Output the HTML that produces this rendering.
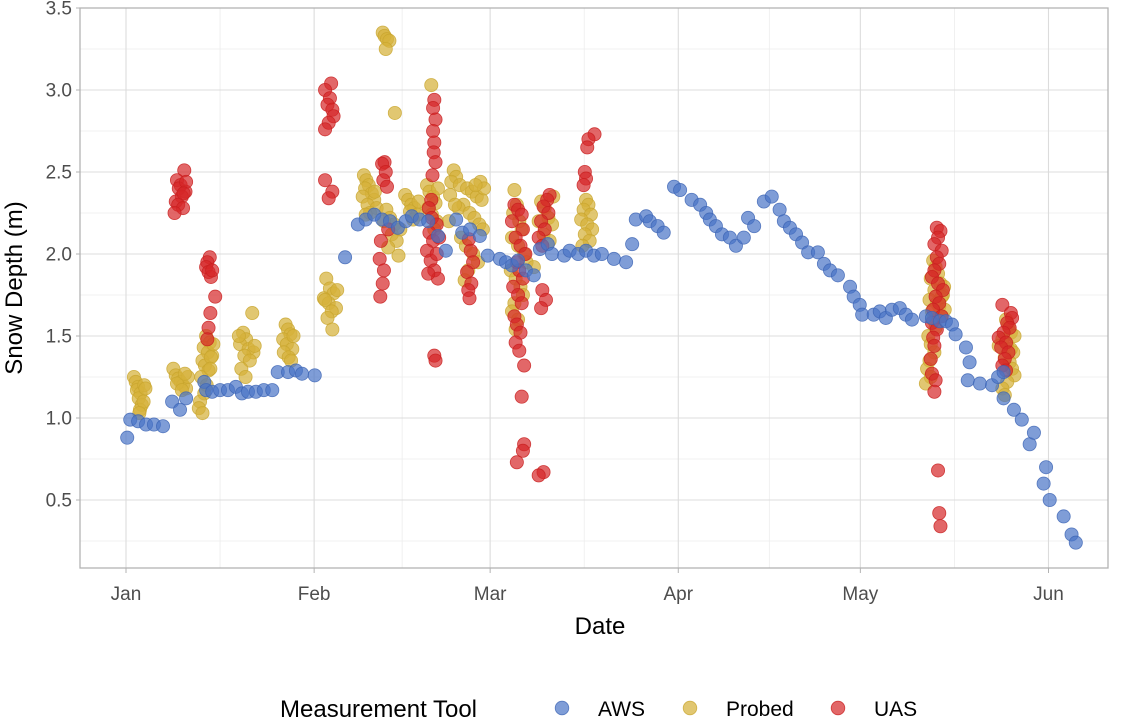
<!DOCTYPE html>
<html><head><meta charset="utf-8"><style>
body{margin:0;background:#fff;}
svg{display:block;font-family:"Liberation Sans",sans-serif;}
</style></head><body>
<svg id="chart" width="1123" height="719" viewBox="0 0 1123 719" xmlns="http://www.w3.org/2000/svg"></svg>
<script>
const monthLabels=["Jan","Feb","Mar","Apr","May","Jun"];
const monthDays=[0,31,60,91,121,152];
const yTicks=[0.5,1.0,1.5,2.0,2.5,3.0,3.5];
const yTickLabels=["0.5","1.0","1.5","2.0","2.5","3.0","3.5"];
const seriesNames=["AWS","Probed","UAS"];

const awsDays=[0.2,0.7,2.0,3.3,4.6,6.1,7.6,8.9,9.9,12.9,13.2,14.2,15.5,16.8,18.1,19.1,20.1,21.4,22.7,24.1,25.0,26.7,28.0,29.0,31.1,36.1,38.2,39.5,40.9,42.2,43.5,44.8,46.1,47.1,48.4,49.8,51.4,52.7,54.4,55.4,56.7,58.3,59.6,61.6,62.6,63.6,64.6,65.9,67.2,68.2,69.5,70.2,72.2,73.1,74.5,75.8,77.1,78.4,80.4,82.4,83.4,84.0,85.7,86.3,87.6,88.6,90.3,91.3,93.2,94.6,95.6,96.2,97.2,98.2,99.5,100.5,101.8,102.5,103.5,105.1,106.4,107.7,108.4,109.4,110.4,111.4,112.4,114.0,115.0,116.0,117.3,119.3,119.9,120.9,121.3,123.2,124.2,125.2,126.2,127.5,128.5,129.5,131.8,132.8,134.1,135.1,136.1,136.7,138.4,139.0,138.7,140.7,142.7,143.7,144.6,144.6,146.3,147.6,148.9,149.6,151.2,151.6,152.2,154.5,155.8,156.5];
const awsVals=[0.88,0.99,0.98,0.96,0.96,0.95,1.10,1.05,1.12,1.22,1.17,1.16,1.17,1.17,1.19,1.15,1.16,1.16,1.17,1.17,1.28,1.28,1.29,1.27,1.26,1.98,2.18,2.21,2.24,2.21,2.20,2.16,2.20,2.23,2.21,2.20,2.11,2.02,2.21,2.13,2.15,2.11,1.99,1.97,1.95,1.93,1.96,1.90,1.87,2.03,2.06,2.00,1.99,2.02,2.00,2.02,1.99,2.00,1.97,1.95,2.06,2.21,2.23,2.20,2.17,2.13,2.41,2.39,2.33,2.30,2.25,2.21,2.17,2.12,2.10,2.05,2.10,2.22,2.17,2.32,2.35,2.27,2.20,2.16,2.12,2.07,2.01,2.01,1.94,1.90,1.87,1.80,1.74,1.69,1.63,1.63,1.65,1.61,1.66,1.67,1.63,1.60,1.62,1.61,1.59,1.59,1.57,1.51,1.43,1.34,1.23,1.21,1.20,1.25,1.28,1.12,1.05,0.99,0.84,0.91,0.60,0.70,0.50,0.40,0.29,0.24];

const probedDays=[1.3,1.6,2.0,1.8,2.4,2.1,2.6,2.3,3.0,3.2,2.9,2.2,
7.8,8.2,8.6,9.0,9.4,9.9,10.2,8.4,9.2,9.7,
13.2,13.8,12.8,13.5,14.2,12.6,13.0,13.6,12.4,13.3,12.9,12.2,12.0,12.6,14.4,14.0,13.9,
20.8,19.3,19.8,18.8,20.2,21.0,19.5,20.4,19.0,19.7,21.2,18.6,
26.3,26.7,27.1,25.9,26.5,27.4,26.0,26.8,27.2,27.6,
33.0,33.6,34.2,32.6,33.4,34.6,33.9,33.2,34.0,34.8,32.8,
39.2,39.6,40.0,39.4,40.5,39.0,40.9,39.8,41.3,40.2,39.5,41.0,
42.3,42.6,43.0,43.4,42.8,44.3,
42.9,43.5,44.2,43.8,44.6,43.2,44.9,45.2,42.5,
46.0,46.5,47.0,47.5,46.8,48.0,47.3,48.2,
50.3,49.6,50.0,50.6,51.0,49.8,50.4,51.4,51.2,50.8,
54.0,54.4,53.6,55.0,56.2,57.0,57.8,58.6,55.6,54.8,56.6,57.4,58.2,58.8,55.2,56.0,57.2,58.0,56.4,55.8,58.4,59.0,53.4,57.6,54.2,53.2,
64.0,64.4,63.8,64.8,65.2,63.6,64.6,65.6,66.0,63.4,64.2,65.0,65.4,64.0,63.6,64.6,64.2,68.4,69.0,69.6,70.2,68.8,69.8,67.2,70.4,68.0,
75.8,76.2,75.4,76.6,75.0,76.0,76.8,75.6,76.4,75.2,
133.0,133.4,133.8,132.6,134.2,133.2,134.6,132.4,133.6,134.0,132.8,134.4,133.0,133.4,132.2,132.6,133.2,132.4,132.0,132.6,131.8,134.8,134.4,134.9,
145.0,145.4,145.8,144.4,145.2,145.8,146.2,144.8,145.6,146.0,146.4,145.2,144.4,144.8,146.4,143.8];
const probedVals=[1.25,1.22,1.19,1.17,1.15,1.12,1.08,1.05,1.20,1.18,1.10,1.03,
1.30,1.26,1.24,1.22,1.20,1.18,1.25,1.21,1.17,1.27,
1.50,1.46,1.43,1.40,1.38,1.35,1.32,1.29,1.25,1.20,1.15,1.10,1.06,1.03,1.45,1.37,1.30,
1.64,1.52,1.48,1.45,1.42,1.40,1.38,1.35,1.30,1.25,1.44,1.50,
1.57,1.54,1.51,1.48,1.45,1.42,1.40,1.37,1.35,1.50,
1.85,1.79,1.76,1.73,1.70,1.67,1.65,1.61,1.54,1.78,1.72,
2.48,2.45,2.42,2.40,2.37,2.35,2.33,2.30,2.28,2.25,2.24,2.38,
3.35,3.33,3.31,3.30,3.25,2.86,
2.27,2.22,2.18,2.12,2.08,2.04,1.99,2.15,2.20,
2.36,2.33,2.30,2.28,2.26,2.24,2.21,2.32,
3.03,2.42,2.38,2.35,2.31,2.28,2.24,2.40,2.20,2.15,
2.51,2.47,2.44,2.42,2.40,2.38,2.35,2.33,2.30,2.28,2.25,2.22,2.18,2.15,2.10,2.05,2.00,1.95,1.90,1.84,2.44,2.40,2.36,2.42,2.30,2.20,
2.39,2.30,2.25,2.20,2.15,2.10,2.05,2.00,1.95,1.90,1.85,1.80,1.75,1.70,1.65,1.60,1.54,2.32,2.28,2.22,2.18,2.12,2.08,1.92,2.35,2.20,
2.33,2.30,2.27,2.24,2.21,2.18,2.15,2.12,2.08,2.05,
1.96,1.92,1.88,1.85,1.82,1.78,1.75,1.72,1.70,1.68,1.65,1.62,1.60,1.55,1.50,1.45,1.40,1.35,1.30,1.25,1.21,1.80,1.74,1.66,
1.60,1.56,1.52,1.48,1.45,1.42,1.40,1.37,1.34,1.30,1.26,1.22,1.18,1.14,1.50,1.44];

const uasDays=[9.6,8.4,9.0,8.7,9.8,9.2,8.2,8.6,9.4,8.0,9.9,9.5,
13.8,13.4,13.2,13.6,14.0,14.7,13.9,13.6,14.2,13.4,
33.8,32.8,33.6,33.2,34.0,34.2,33.4,32.8,32.8,34.0,33.4,
42.6,42.2,42.8,42.4,43.0,43.2,42.0,41.8,42.5,42.3,41.9,
50.8,50.6,51.0,50.6,50.8,50.7,51.0,50.5,50.3,49.9,50.4,51.2,50.0,50.6,49.6,50.2,50.8,51.4,49.8,50.8,51.0,51.6,51.2,
56.5,56.8,57.2,56.2,56.9,56.4,56.6,
64.0,64.6,65.2,63.6,65.4,64.2,65.0,65.8,64.4,64.8,65.4,63.8,64.6,65.2,64.0,64.4,65.0,64.2,64.8,65.6,65.2,65.6,65.4,64.4,
69.8,69.4,68.8,69.6,68.4,69.0,68.0,68.6,68.6,69.2,68.4,68.8,68.0,
77.2,76.2,76.0,75.6,75.8,75.4,
133.6,134.2,133.8,133.2,134.4,133.6,134.0,133.2,132.8,133.8,134.6,133.4,134.0,133.0,134.4,132.8,133.6,133.0,133.2,132.6,132.8,133.4,133.2,133.8,134.0,134.2,
144.4,145.8,146.0,145.2,145.6,144.6,143.8,145.0,144.2,145.4,144.8,144.4,145.0];
const uasVals=[2.51,2.45,2.42,2.40,2.38,2.35,2.32,2.30,2.28,2.25,2.44,2.37,
1.98,1.95,1.92,1.89,1.86,1.74,1.64,1.55,1.90,1.48,
3.04,3.00,2.95,2.91,2.88,2.84,2.80,2.76,2.45,2.38,2.34,
2.56,2.55,2.50,2.45,2.41,2.15,2.08,1.97,1.90,1.82,1.74,
2.94,2.89,2.82,2.75,2.68,2.62,2.56,2.48,2.33,2.28,2.22,2.18,2.13,2.08,2.02,1.96,1.90,1.85,1.88,1.38,1.35,2.10,2.00,
2.09,2.02,1.95,1.89,1.82,1.78,1.73,
2.30,2.27,2.24,2.20,2.15,2.10,2.05,2.00,1.95,1.90,1.85,1.80,1.75,1.70,1.62,1.57,1.52,1.46,1.41,1.32,1.13,0.84,0.80,0.73,
2.36,2.33,2.29,2.25,2.20,2.15,2.10,2.05,1.78,1.72,1.67,0.67,0.65,
2.73,2.70,2.65,2.50,2.46,2.42,
2.16,2.14,2.10,2.06,2.02,1.98,1.94,1.90,1.86,1.82,1.78,1.74,1.70,1.66,1.62,1.58,1.54,1.49,1.44,1.36,1.27,1.23,1.16,0.68,0.42,0.34,
1.69,1.64,1.61,1.58,1.55,1.52,1.49,1.46,1.43,1.40,1.36,1.32,1.29];

const NS="http://www.w3.org/2000/svg";
const svg=document.getElementById('chart');
const L=80,R=1108,T=8,B=568;
const x=d=>126+d*6.069;
const y=v=>8+(3.5-v)*164;
function mk(tag,attrs,parent){const e=document.createElementNS(NS,tag);for(const k in attrs)e.setAttribute(k,attrs[k]);(parent||svg).appendChild(e);return e;}

const grid=mk('g',{});


for(let i=0;i<yTicks.length;i++){const v=yTicks[i]-0.25;if(y(v)<B){const l=mk('line',{x1:L,x2:R,y1:y(v),y2:y(v),stroke:'#ececec','stroke-width':0.8},grid);}}
for(let i=0;i<monthDays.length-1;i++){const d=(monthDays[i]+monthDays[i+1])/2;const l=mk('line',{x1:x(d),x2:x(d),y1:T,y2:B,stroke:'#ececec','stroke-width':0.8},grid);}
{const d=monthDays[0]-15.5;if(x(d)>L){const l=mk('line',{x1:x(d),x2:x(d),y1:T,y2:B,stroke:'#ececec','stroke-width':0.8},grid);}}
{const d=monthDays[5]+15;if(x(d)<R){const l=mk('line',{x1:x(d),x2:x(d),y1:T,y2:B,stroke:'#ececec','stroke-width':0.8},grid);}}
yTicks.forEach((v,i)=>{const l=mk('line',{x1:L,x2:R,y1:y(v),y2:y(v),stroke:'#dcdcdc','stroke-width':1.1},grid);
const tk=mk('line',{x1:L-4,x2:L,y1:y(v),y2:y(v),stroke:'#b3b3b3','stroke-width':1});
const t=mk('text',{x:L-8,y:y(v)+6.5,'text-anchor':'end','font-size':19,fill:'#4d4d4d'});t.textContent=yTickLabels[i];});
monthDays.forEach((d,i)=>{const l=mk('line',{x1:x(d),x2:x(d),y1:T,y2:B,stroke:'#dcdcdc','stroke-width':1.1},grid);
const tk=mk('line',{x1:x(d),x2:x(d),y1:B,y2:B+5,stroke:'#b3b3b3','stroke-width':1});
const t=mk('text',{x:x(d),y:600,'text-anchor':'middle','font-size':19,fill:'#4d4d4d'});t.textContent=monthLabels[i];});

const colors=['rgba(72,116,198,0.7)','rgba(214,178,58,0.72)','rgba(214,38,40,0.7)'];
const strokes=['rgba(60,100,180,0.8)','rgba(200,165,45,0.8)','rgba(200,30,30,0.8)'];
const sets=[[awsDays,awsVals],[probedDays,probedVals],[uasDays,uasVals]];
[1,2,0].forEach(s=>{const g=mk('g',{});
const [ds,vs]=sets[s];for(let i=0;i<ds.length;i++){const c=mk('circle',{cx:x(ds[i]),cy:y(vs[i]),r:6.6,fill:colors[s],stroke:strokes[s],'stroke-width':0.8},g);}});

const border=mk('rect',{x:L,y:T,width:R-L,height:B-T,fill:'none',stroke:'#b3b3b3','stroke-width':1.3});


const xt=mk('text',{x:600,y:634,'text-anchor':'middle','font-size':24,fill:'#000'});xt.textContent='Date';
const yt=mk('text',{x:0,y:0,transform:'translate(22,288) rotate(-90)','text-anchor':'middle','font-size':24,fill:'#000'});yt.textContent='Snow Depth (m)';

const lg=mk('g',{});
const lt=mk('text',{x:280,y:717,'font-size':24,fill:'#000'},lg);lt.textContent='Measurement Tool';
const lx=[562,690,838];
seriesNames.forEach((n,i)=>{const c=mk('circle',{cx:lx[i],cy:708,r:6.8,fill:colors[i],stroke:strokes[i],'stroke-width':0.8},lg);
const t=mk('text',{x:lx[i]+36,y:716,'font-size':21,fill:'#000'},lg);t.textContent=n;});
</script>
</body></html>
